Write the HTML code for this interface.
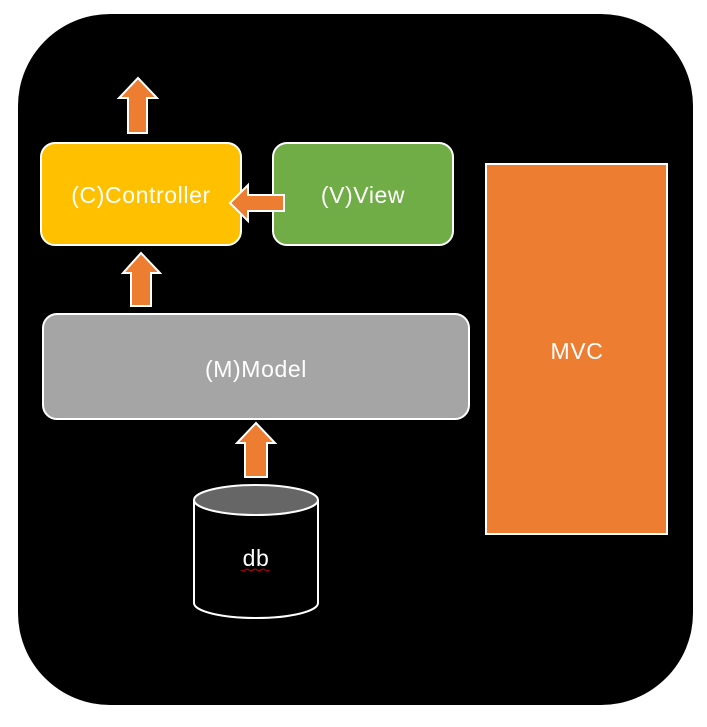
<!DOCTYPE html>
<html><head><style>body{margin:0;background:#fff}svg{display:block}</style></head>
<body>
<svg width="707" height="727" viewBox="0 0 707 727" xmlns="http://www.w3.org/2000/svg" font-family="Liberation Sans, sans-serif">
<rect x="18" y="14" width="675" height="691" rx="92" fill="#000"/>
<g stroke="#fff" stroke-width="2">
<rect x="41" y="143" width="200" height="102" rx="14" fill="#ffc000"/>
<rect x="273" y="143" width="180" height="102" rx="14" fill="#70ad47"/>
<rect x="43" y="314" width="426" height="105" rx="14" fill="#a5a5a5"/>
<rect x="486" y="164" width="181" height="370" fill="#ed7d31"/>
<path d="M128,133 V98 H119 L138,78 L157,98 H147 V133 Z" fill="#ed7d31"/>
<path d="M131,306 V273 H123 L141,253 L160,273 H151 V306 Z" fill="#ed7d31"/>
<path d="M245,477 V443 H237 L256,423 L275,443 H267 V477 Z" fill="#ed7d31"/>
<path d="M284,195 H248 V185 L230,203 L248,221 V211 H284 Z" fill="#ed7d31"/>
<path d="M194,500 V603 A62,15 0 0 0 318,603 V500" fill="#000"/>
<ellipse cx="256" cy="500" rx="62" ry="15" fill="#666"/>
</g>
<g fill="#fff" font-size="23" text-anchor="middle" letter-spacing="0.6">
<text x="141" y="203">(C)Controller</text>
<text x="363" y="203">(V)View</text>
<text x="256" y="377">(M)Model</text>
<text x="577" y="359">MVC</text>
<text x="256" y="566">db</text>
</g>
<path d="M241,570 q2,2 4,0 t4,0 t4,0 t4,0 t4,0 t4,0 t4,0" stroke="#c00" fill="none" stroke-width="1"/>
</svg>
</body></html>
